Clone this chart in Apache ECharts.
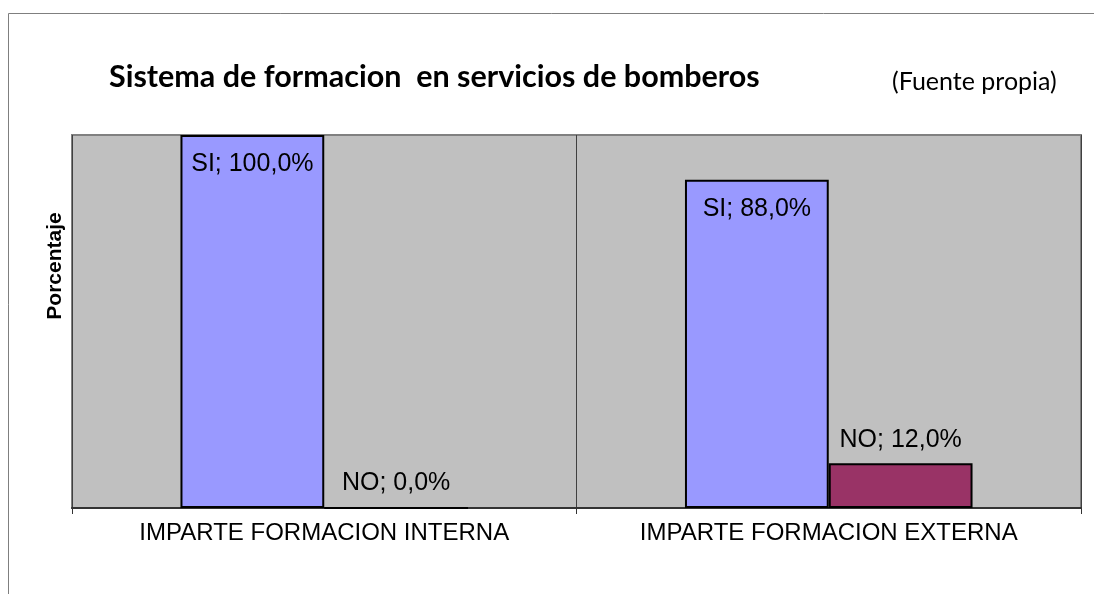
<!DOCTYPE html>
<html>
<head>
<meta charset="utf-8">
<script src="https://cdn.jsdelivr.net/npm/echarts@6/dist/echarts.min.js"></script>
<style>
  html, body { margin: 0; padding: 0; background: #fff; }
  #chart { width: 1094px; height: 594px; }
</style>
</head>
<body>
<div id="chart"></div>
<script>
// categorias y valores (%)
var categorias = ['IMPARTE FORMACION INTERNA', 'IMPARTE FORMACION EXTERNA'];
var valoresSI = [100.0, 88.0];
var valoresNO = [0.0, 12.0];

function etiqueta(p) {
    return p.seriesName + '; ' + p.value.toFixed(1).replace('.', ',') + '%';
}

var option = {
    animation: false,
    title: [
        {
            text: 'Sistema de formacion  en servicios de bomberos',
            left: 104,
            top: 57,
            textStyle: { fontFamily: 'Lato', fontSize: 30.5, fontWeight: 'bold', color: '#000' }
        },
        {
            text: '(Fuente propia)',
            left: 887,
            top: 64,
            textStyle: { fontFamily: 'Lato', fontSize: 25, fontWeight: 'normal', color: '#000' }
        }
    ],
    graphic: [
        {
            type: 'rect',
            shape: { x: 8.5, y: 13.5, width: 1200, height: 700 },
            style: { fill: 'none', stroke: '#7f7f7f', lineWidth: 1 }
        },
        {
            type: 'text',
            x: 55,
            y: 266,
            rotation: Math.PI / 2,
            style: {
                text: 'Porcentaje',
                align: 'center',
                verticalAlign: 'middle',
                fontFamily: 'Liberation Sans',
                fontSize: 21,
                fontWeight: 'bold',
                fill: '#000'
            }
        }
    ],
    grid: {
        left: 72, right: 13, top: 135, bottom: 86,
        show: true,
        backgroundColor: '#c0c0c0',
        borderColor: '#808080',
        borderWidth: 2
    },
    xAxis: {
        type: 'category',
        data: categorias,
        axisLine: { lineStyle: { color: '#333', width: 2 } },
        axisTick: { show: true, length: 6, lineStyle: { color: '#333' } },
        axisLabel: { fontFamily: 'Liberation Sans', fontSize: 24, color: '#000', margin: 13 },
        splitLine: { show: true, lineStyle: { color: '#404040', width: 1 } }
    },
    yAxis: {
        type: 'value',
        min: 0,
        max: 100,
        axisLine: { show: false },
        axisTick: { show: false },
        axisLabel: { show: false },
        splitLine: { show: false }
    },
    series: [
        {
            name: 'SI',
            type: 'bar',
            data: valoresSI,
            barGap: '0%',
            barCategoryGap: '43%',
            itemStyle: { color: '#9999ff', borderColor: '#000', borderWidth: 2 },
            label: {
                show: true, position: 'insideTop', distance: 17,
                formatter: etiqueta,
                fontFamily: 'Liberation Sans', fontSize: 25, color: '#000'
            }
        },
        {
            name: 'NO',
            type: 'bar',
            data: valoresNO,
            itemStyle: { color: '#993366', borderColor: '#000', borderWidth: 2 },
            label: {
                show: true, position: 'top', distance: 11,
                formatter: etiqueta,
                fontFamily: 'Liberation Sans', fontSize: 25, color: '#000'
            }
        }
    ]
};

var chart = echarts.init(document.getElementById('chart'));
chart.setOption(option);
</script>
</body>
</html>
